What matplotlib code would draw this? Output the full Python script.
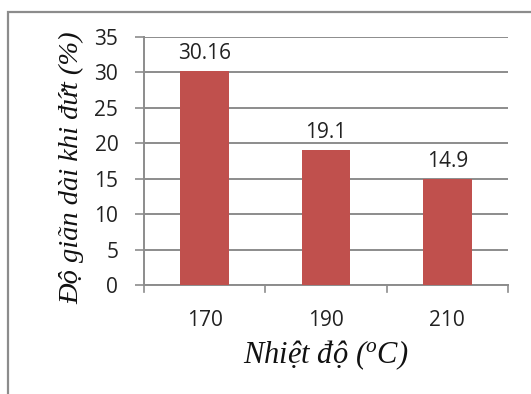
import matplotlib.pyplot as plt
from matplotlib.patches import Rectangle

temps = ["170", "190", "210"]
elong = [30.16, 19.1, 14.9]
labels = ["30.16", "19.1", "14.9"]
yticks = [0, 5, 10, 15, 20, 25, 30, 35]

plt.rcParams['mathtext.fontset'] = 'custom'
plt.rcParams['mathtext.it'] = 'Liberation Serif:italic'
plt.rcParams['mathtext.rm'] = 'Liberation Serif:italic'

fig = plt.figure(figsize=(5.31, 3.94), dpi=100)
ax = fig.add_axes([144 / 531, 1 - 285 / 394, 364 / 531, 248 / 394])

# outer frame of the chart area
fig.patches.append(Rectangle((8 / 531, -0.1), 1.2, (394 - 12) / 394 + 0.1,
                             transform=fig.transFigure, fill=False,
                             edgecolor='#8c8c8c', linewidth=1.6))

x = range(len(temps))
ax.bar(x, elong, width=0.4, color='#C0504D', zorder=3)
for xi, v, t in zip(x, elong, labels):
    ax.text(xi, v + 1.0, t, ha='center', va='bottom', fontsize=15,
            family='Open Sans', color='#222222')

ax.set_xlim(-0.5, 2.5)
ax.set_ylim(0, 35)
ax.set_yticks(yticks)
ax.set_xticks(x)
ax.set_xticklabels(temps)
ax.yaxis.grid(True, color='#8c8c8c', linewidth=1.4)
ax.set_axisbelow(True)
for s in ['top', 'right']:
    ax.spines[s].set_visible(False)
for s in ['left', 'bottom']:
    ax.spines[s].set_color('#8c8c8c')
    ax.spines[s].set_linewidth(1.4)

ax.tick_params(axis='y', length=6.5, direction='out', color='#8c8c8c', width=1.2,
               labelsize=15, pad=12)
ax.tick_params(axis='x', length=0, labelsize=15, pad=18)
for lab in ax.get_xticklabels() + ax.get_yticklabels():
    lab.set_family('Open Sans')
    lab.set_color('#222222')

# x ticks between categories
for b in [-0.5, 0.5, 1.5, 2.5]:
    ax.plot([b, b], [0, -0.03], transform=ax.get_xaxis_transform(),
            color='#8c8c8c', linewidth=1.2, clip_on=False)

fig.text(72 / 531, 1 - 168 / 394, 'Độ giãn dài khi đứt (%)', rotation=90,
         ha='center', va='center', fontsize=20.5, family='Liberation Serif',
         style='italic', color='#111111')
fig.text(326 / 531, 1 - 355 / 394, 'Nhiệt độ ($^o$C)', ha='center',
         va='center', fontsize=22, family='Liberation Serif', style='italic',
         color='#111111')

fig.savefig('out.png', dpi=100)
